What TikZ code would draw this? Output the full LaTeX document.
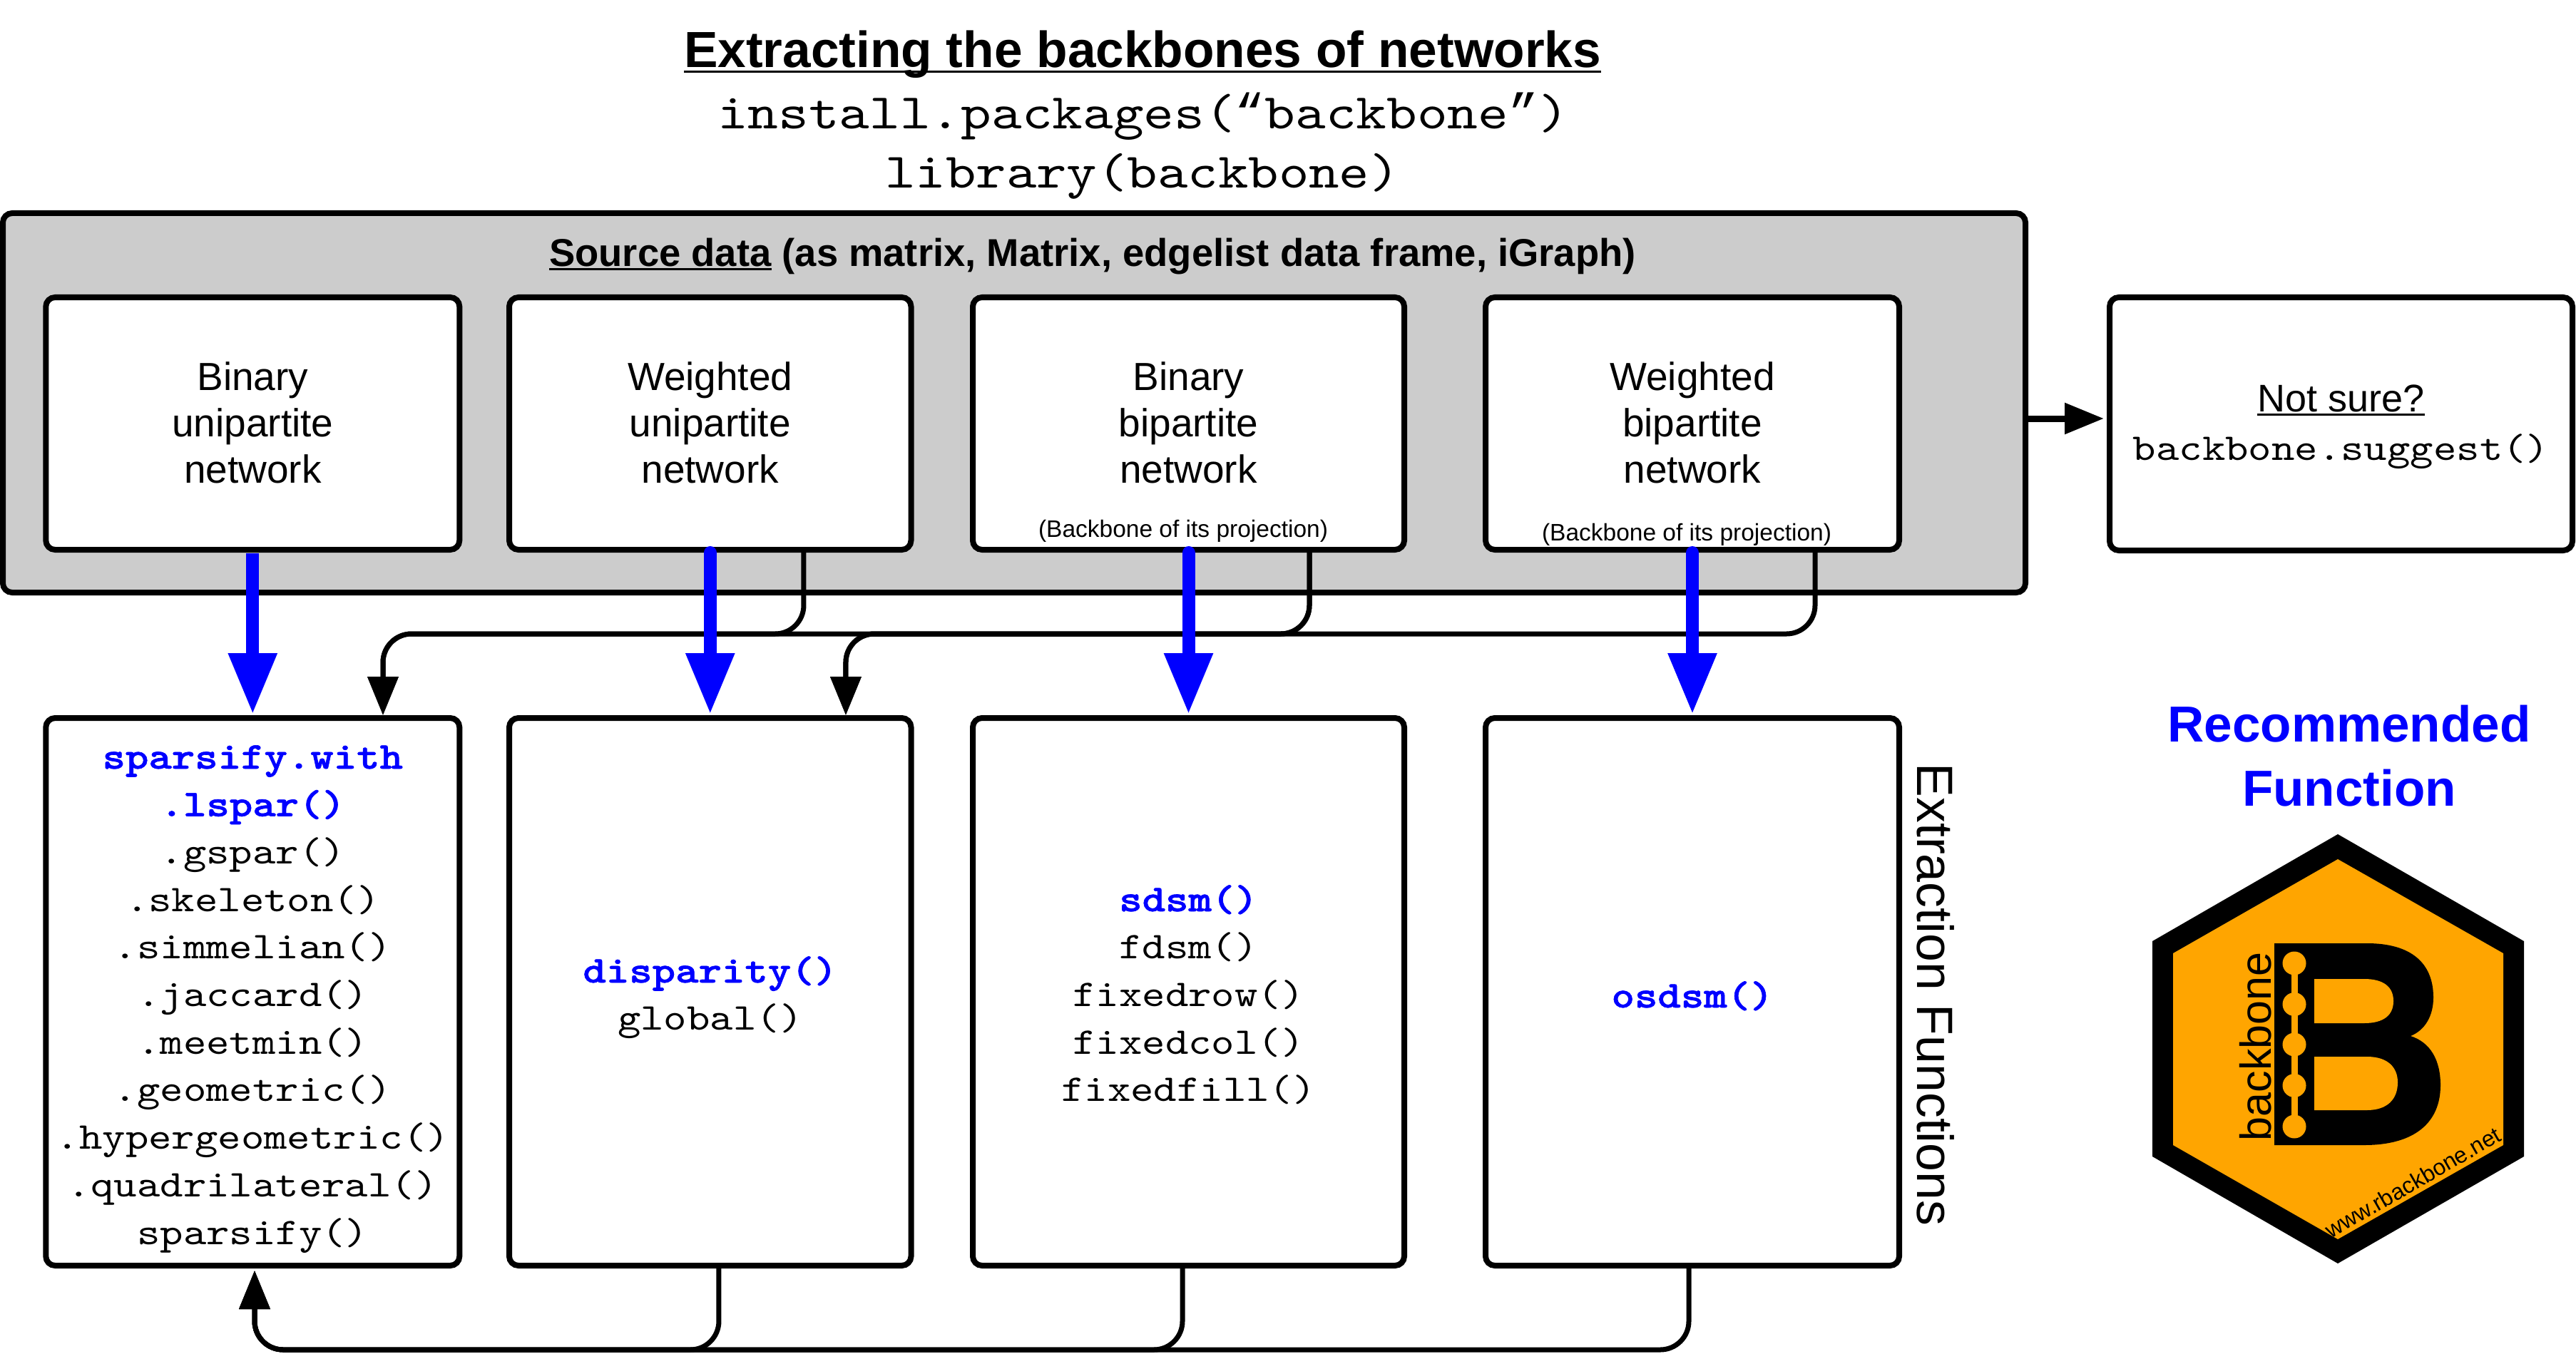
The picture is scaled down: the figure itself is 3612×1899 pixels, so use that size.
\documentclass[tikz,border=0pt]{standalone}
\usepackage{fontspec}
\setmainfont{Liberation Sans}
\setmonofont[FakeStretch=1.165,BoldFont=lmmonolt10-bold.otf,BoldFeatures={FakeBold=1.2}]{lmmono10-regular.otf}
\newfontfamily\quotefont{Liberation Mono}
\usetikzlibrary{arrows.meta}
\definecolor{srcgray}{HTML}{CCCCCC}
\definecolor{hexorange}{HTML}{FFA500}
\definecolor{recblue}{HTML}{0000FF}
\newsavebox\ulbox
\newcommand\ulin[1]{\leavevmode\sbox\ulbox{#1}\rlap{\rule[-0.105em]{\wd\ulbox}{0.055em}}\usebox\ulbox}
% text block whose first baseline is raised #1 above the centre of its node
\newcommand\blk[2]{\smash{\raisebox{#1}{\begin{tabular}[t]{@{}c@{}}#2\end{tabular}}}}
\newcommand\rec[1]{\textbf{\textcolor{recblue}{#1}}}
\tikzset{
  boxbase/.style={draw=black,line width=4pt,rounded corners=6.5pt,fill=white,inner sep=0pt,outer sep=0pt},
  srcbox/.style={boxbase,minimum height=177pt},
  fnbox/.style={boxbase,minimum height=384pt,font=\fontsize{26.5}{33.35}\selectfont\ttfamily},
  sanstext/.style={font=\fontsize{27.5}{32.5}\selectfont},
  bluearrow/.style={draw=recblue,line width=9pt,-{Triangle[length=43pt,width=32pt]},shorten >=2.5pt},
  blackarrow/.style={draw=black,line width=3.5pt,rounded corners=20pt,-{Triangle[length=27pt,width=21pt]},shorten >=2pt},
  plain/.style={inner sep=0pt,outer sep=0pt},
  smallnote/.style={plain,anchor=base,font=\fontsize{16.75}{20}\selectfont},
}
\begin{document}
\begin{tikzpicture}[x=0.5pt,y=-0.5pt]
\useasboundingbox (0,0) rectangle (3612,1899);
% heading
\node[plain,anchor=base,font=\fontsize{35.6}{40}\selectfont\bfseries] (title) at (1602,95) {\ulin{Extracting the backbones of networks}};
\node[plain,anchor=base,font=\fontsize{34.9}{40}\selectfont\ttfamily] (inst) at (1603,181) {install.packages({\quotefont“}backbone{\quotefont”})};
\node[plain,anchor=base,font=\fontsize{34.7}{40}\selectfont\ttfamily] (lib) at (1602,264) {library(backbone)};
% source data
\node[boxbase,fill=srcgray,minimum width=1418pt,minimum height=266pt] (big) at (1422,565) {};
\node[plain,anchor=base,font=\fontsize{27.2}{32}\selectfont\bfseries] (srclabel) at (1532,373) {\ulin{Source data} (as matrix, Matrix, edgelist data frame, iGraph)};
\node[srcbox,sanstext,minimum width=290pt] (s1) at (354.3,594) {\blk{23.5pt}{Binary\\unipartite\\network}};
\node[srcbox,sanstext,minimum width=281.75pt] (s2) at (995.75,594) {\blk{23.5pt}{Weighted\\unipartite\\network}};
\node[srcbox,sanstext,minimum width=302.5pt] (s3) at (1666.5,594) {\blk{23.5pt}{Binary\\bipartite\\network}};
\node[srcbox,sanstext,minimum width=290pt] (s4) at (2373,594) {\blk{23.5pt}{Weighted\\bipartite\\network}};
\node[smallnote] (n3) at (1659,753) {(Backbone of its projection)};
\node[smallnote] (n4) at (2365,758) {(Backbone of its projection)};
% not sure
\node[boxbase,minimum width=324.5pt,minimum height=177.5pt,font=\fontsize{27}{34}\selectfont] (ns) at (3282.5,594.5) {\blk{8.75pt}{\ulin{Not sure?}\\\fontsize{26.5}{34}\selectfont\ttfamily backbone.suggest()}};
% extraction functions
\node[fnbox,minimum width=290pt] (f1) at (354.3,1391) {\blk{156.5pt}{\rec{sparsify.with}\\\rec{.lspar()}\\.gspar()\\.skeleton()\\.simmelian()\\.jaccard()\\.meetmin()\\.geometric()\\.hypergeometric()\\.quadrilateral()\\sparsify()}};
\node[fnbox,minimum width=281.75pt] (f2) at (995.75,1391) {\blk{6.5pt}{\rec{disparity()}\\global()}};
\node[fnbox,minimum width=302.5pt] (f3) at (1666.5,1391) {\blk{56.5pt}{\rec{sdsm()}\\fdsm()\\fixedrow()\\fixedcol()\\fixedfill()}};
\node[fnbox,minimum width=290pt] (f4) at (2373,1391) {\blk{-11pt}{\rec{osdsm()}}};
\node[plain,anchor=base,rotate=-90,font=\fontsize{35.8}{40}\selectfont] (extr) at (2688,1395) {Extraction Functions};
% bus coordinates
\coordinate (busleft) at (800,889);
\coordinate (busright) at (1500,889);
\coordinate (busdown) at (700,1893);
% black connectors
\draw[blackarrow] ([xshift=65.6pt]s2.south) |- (busleft) -| ([xshift=91.35pt]f1.north);
\draw[blackarrow] ([xshift=84.75pt]s3.south) |- (busleft) -| ([xshift=91.35pt]f1.north);
\draw[blackarrow] ([xshift=84.75pt]s3.south) |- (busright) -| ([xshift=95.1pt]f2.north);
\draw[blackarrow] ([xshift=86pt]s4.south) |- (busright) -| ([xshift=95.1pt]f2.north);
\draw[blackarrow,shorten >=3.5pt] ([xshift=6.1pt]f2.south) |- (busdown) -| ([xshift=1.35pt]f1.south);
\draw[blackarrow,shorten >=3.5pt] ([xshift=-4.25pt]f3.south) |- (busdown) -| ([xshift=1.35pt]f1.south);
\draw[blackarrow,shorten >=3.5pt] ([xshift=-2.5pt]f4.south) |- (busdown) -| ([xshift=1.35pt]f1.south);
\draw[draw=black,line width=4.5pt,-{Triangle[length=27.5pt,width=21pt]},shorten >=4pt] ([yshift=-11pt]big.east) -- ([yshift=3.75pt]ns.west);
% recommended
\draw[bluearrow,shorten <=2.5pt] (s1.south) -- (f1.north);
\draw[bluearrow,line cap=round,shorten <=2pt] (s2.south) -- (f2.north);
\draw[bluearrow,line cap=round,shorten <=2pt] (s3.south) -- (f3.north);
\draw[bluearrow,line cap=round,shorten <=2pt] (s4.south) -- (f4.north);
\node[plain,font=\fontsize{35.5}{45}\selectfont\bfseries\color{recblue}] (recm) at (3294,1040) {\blk{0pt}{Recommended\\Function}};
% logo
\fill[black] (3278,1170) -- (3539,1320) -- (3539,1622) -- (3278,1772) -- (3018,1622) -- (3018,1320) -- cycle;
\fill[hexorange] (3278,1205) -- (3510,1337) -- (3510,1606) -- (3278,1738) -- (3047,1606) -- (3047,1337) -- cycle;
\fill[black] (3189,1323) -- (3319,1323) .. controls (3380,1323) and (3412,1350) .. (3412,1399)
  .. controls (3412,1425) and (3400,1445) .. (3380,1453)
  .. controls (3408,1462) and (3422,1487) .. (3422,1522)
  .. controls (3422,1575) and (3385,1606) .. (3315,1606) -- (3189,1606) -- cycle;
\fill[hexorange] (3245,1373) -- (3315,1373) .. controls (3342,1373) and (3356,1384) .. (3356,1404)
  .. controls (3356,1424) and (3342,1435) .. (3315,1435) -- (3245,1435) -- cycle;
\fill[hexorange] (3245,1482) -- (3319,1482) .. controls (3348,1482) and (3362,1497) .. (3362,1518)
  .. controls (3362,1542) and (3347,1557) .. (3319,1557) -- (3245,1557) -- cycle;
\draw[hexorange,line width=4.5pt] (3217,1351) -- (3217,1580);
\foreach \yy in {1351,1408.5,1465,1522.5,1580} \fill[hexorange] (3217,\yy) circle[radius=16.5];
\node[plain,anchor=base,rotate=90,font=\fontsize{30.5}{36}\selectfont] (logoname) at (3184,1468) {backbone};
\node[plain,anchor=base,rotate=30,font=\fontsize{15.9}{19}\selectfont] (logourl) at (3389,1668) {www.rbackbone.net};
\end{tikzpicture}
\end{document}
